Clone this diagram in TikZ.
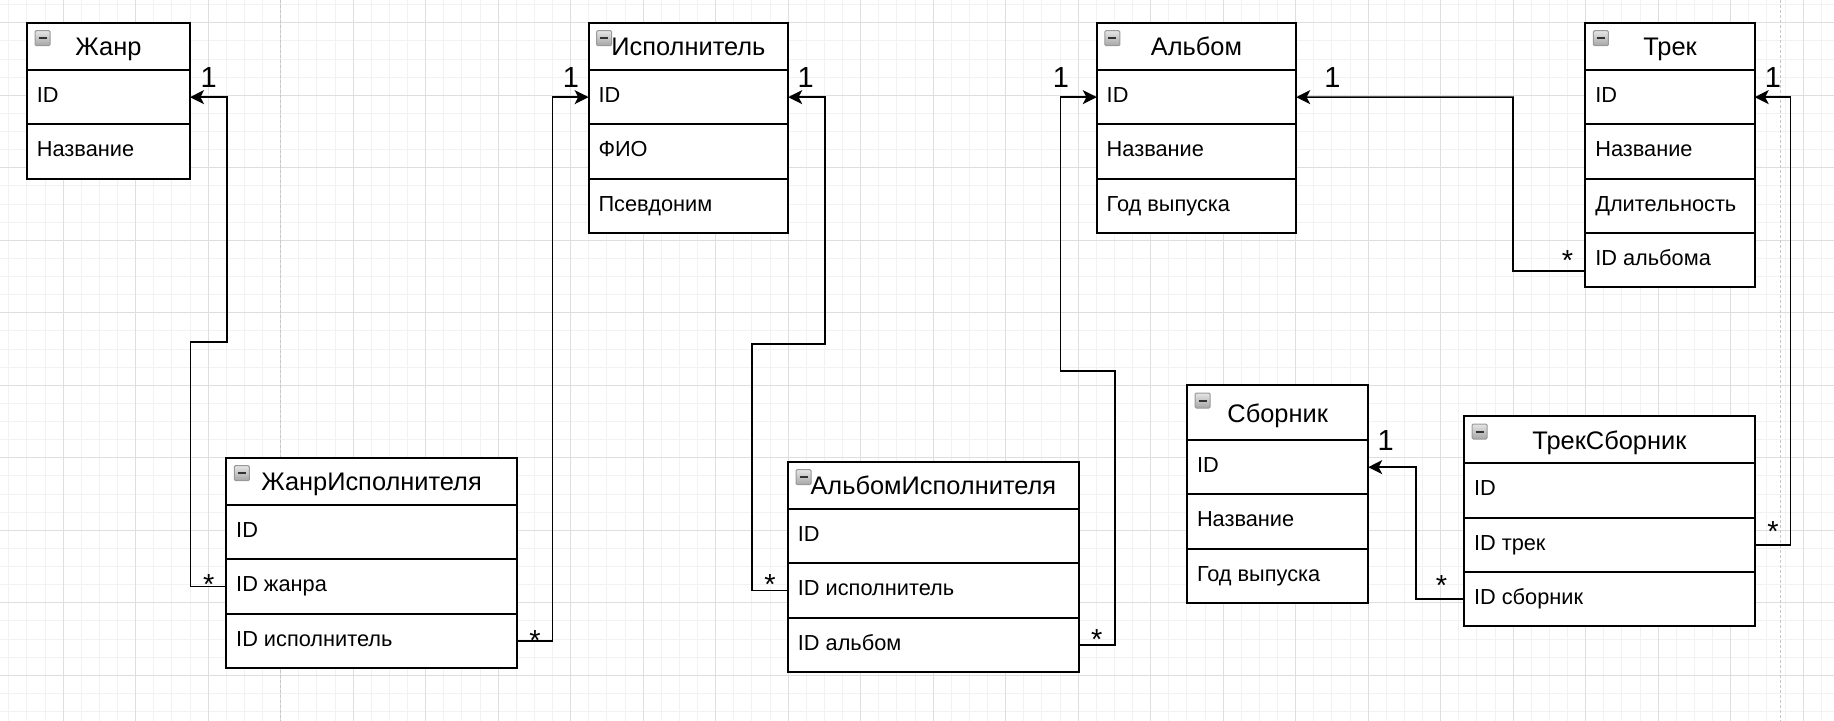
\documentclass[tikz,border=0pt]{standalone}
\usepackage{fontspec}
\setmainfont{Liberation Sans}
\usetikzlibrary{calc,arrows.meta}
\tikzset{
  gridminor/.style={draw=black!5, line width=0.5pt},
  gridmajor/.style={draw=black!13, line width=0.5pt},
  pageline/.style={draw=black!22, line width=0.7pt, dash pattern=on 1.5pt off 1pt},
  cell/.style={draw=black, line width=1pt, fill=white, rectangle, inner sep=0pt, outer sep=0pt},
  ttl/.style={font=\fontsize{12.7}{15}\selectfont, inner sep=0pt, anchor=base},
  rowtxt/.style={font=\fontsize{10.88}{13}\selectfont, inner sep=0pt, anchor=base west},
  icon/.style={draw=black!40, top color=black!10, bottom color=black!35, line width=0.5pt, rounded corners=0.6pt},
  minusbar/.style={draw=black!80, line width=1pt},
  conn/.style={draw=black, line width=0.8pt, -{Stealth[length=7pt,width=7pt,inset=1.8pt]}},
  one/.style={font=\fontsize{14.5}{16}\selectfont, inner sep=0pt, anchor=base},
  many/.style={font=\fontsize{14.5}{16}\selectfont, inner sep=0pt, anchor=base},
}
\newcommand{\umltable}[7]{%
  \node[cell, anchor=north west, minimum width=#4*0.5pt, minimum height=#5*0.5pt] (#1) at (#2,#3) {};
  \node[ttl] (#1-t) at ($(#1.center)+(0,9.5)$) {#6};
  \path[icon] (#2+8,#3+8) rectangle ++(15,15);
  \draw[minusbar] (#2+11.5,#3+15.5) -- ++(8,0);
  \foreach \rowtext [count=\i] in {#7} {%
    \pgfmathsetmacro{\ry}{#3+#5+54.3*(\i-1)}%
    \node[cell, anchor=north west, minimum width=#4*0.5pt, minimum height=27.15pt] (#1-\i) at (#2,\ry) {};
    \node[rowtxt] (#1-\i-t) at (#2+9.5,\ry+32.5) {\rowtext};
  }%
}
\begin{document}
\begin{tikzpicture}[x=0.5pt,y=-0.5pt]
\fill[white] (0,0) rectangle (1834,721);
\useasboundingbox (0,0) rectangle (1834,721);
% grid
\foreach \k in {-15,...,85} \draw[gridminor] ({280.7+18.125*\k},0) -- ({280.7+18.125*\k},721);
\foreach \k in {-1,...,38} \draw[gridminor] (0,{22.8+18.125*\k}) -- (1834,{22.8+18.125*\k});
\foreach \k in {-3,...,21} \draw[gridmajor] ({280.7+72.5*\k},0) -- ({280.7+72.5*\k},721);
\foreach \k in {0,...,9} \draw[gridmajor] (0,{22.8+72.5*\k}) -- (1834,{22.8+72.5*\k});
\draw[pageline] (280.7,0) -- (280.7,721);
\draw[pageline] (1780.4,0) -- (1780.4,721);
% tables
\umltable{zh}{27}{22.7}{163}{47.3}{Жанр}{ID,Название}
\umltable{isp}{588.6}{22.7}{199.6}{47.3}{Исполнитель}{ID,ФИО,Псевдоним}
\umltable{al}{1096.8}{22.7}{199.4}{47.3}{Альбом}{ID,Название,Год выпуска}
\umltable{tr}{1585.4}{22.7}{169.3}{47.3}{Трек}{ID,Название,Длительность,ID альбома}
\umltable{zhi}{226.3}{457.7}{290.5}{47.3}{ЖанрИсполнителя}{ID,ID жанра,ID исполнитель}
\umltable{ai}{788}{461.7}{290.7}{47.3}{АльбомИсполнителя}{ID,ID исполнитель,ID альбом}
\umltable{sb}{1187.1}{385}{181.1}{55}{Сборник}{ID,Название,Год выпуска}
\umltable{ts}{1464.1}{416}{290.6}{47.3}{ТрекСборник}{ID,ID трек,ID сборник}
% connectors
\draw[conn] (zhi-2.west) -| (190.3,342) -- (226.7,342) |- (zh-1.east);
\draw[conn] (zhi-3.east) -| ($(isp-1.west)+(-36.2,0)$) -- (isp-1.west);
\draw[conn] (ai-2.west) -| (752,344) -- (825,344) |- (isp-1.east);
\draw[conn] (ai-3.east) -| (1115,371) -- (1060.3,371) |- (al-1.west);
\draw[conn] ([yshift=-5.5pt]tr-4.west) -- (1513,271) |- (al-1.east);
\draw[conn] (ts-2.east) -| ($(tr-1.east)+(35.8,0)$) -- (tr-1.east);
\draw[conn] (ts-3.west) -| ($(sb-1.east)+(47.8,0)$) -- (sb-1.east);
% multiplicities
\node[one] (m1) at (208.6,87.7) {1};
\node[one] (m2) at (571,87.7) {1};
\node[one] (m3) at (805.7,87.7) {1};
\node[one] (m4) at (1061,87.7) {1};
\node[one] (m5) at (1332.4,87.7) {1};
\node[one] (m6) at (1773,87.7) {1};
\node[one] (m7) at (1385.6,450.4) {1};
\node[many] (s1) at (208.7,594.9) {*};
\node[many] (s2) at (535,650.9) {*};
\node[many] (s3) at (770,594.9) {*};
\node[many] (s4) at (1096.7,649.9) {*};
\node[many] (s5) at (1567.5,270.6) {*};
\node[many] (s6) at (1773,541.6) {*};
\node[many] (s7) at (1441.5,595.9) {*};
\end{tikzpicture}
\end{document}
